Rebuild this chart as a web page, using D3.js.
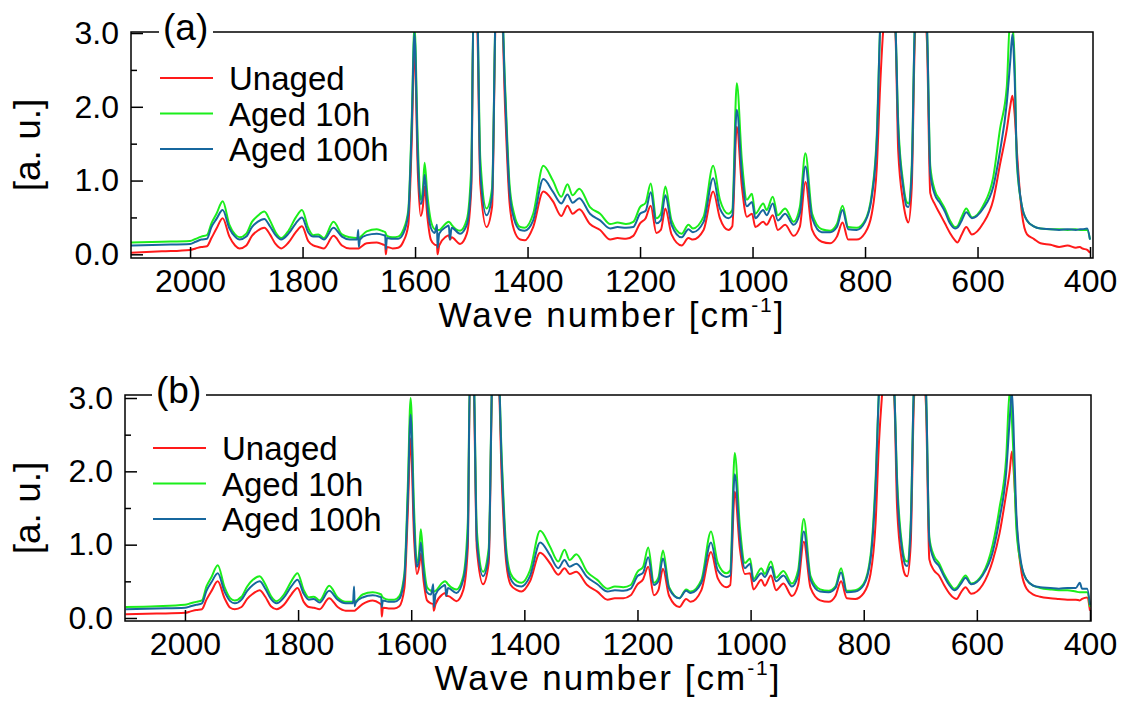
<!DOCTYPE html>
<html>
<head>
<meta charset="utf-8">
<script src="https://cdn.jsdelivr.net/npm/d3@7"></script>
<style>
  body { margin: 0; background: #fff; }
  svg { display: block; font-family: 'Liberation Sans', Arial, Helvetica, sans-serif; }
  .tick text { fill: #000; }
</style>
</head>
<body>
<div id="vis"></div>
<script>
const FRAME_WIDTH = 1125;
const FRAME_HEIGHT = 704;

// wave numbers [cm-1], shared by both panels
const WAVENUMBERS = [
  2105, 2050, 2000, 1990, 1980, 1970, 1962, 1953, 1942, 1930,
  1920, 1912, 1900, 1890, 1880, 1868, 1858, 1848, 1838, 1825,
  1812, 1801, 1790, 1781, 1772, 1762, 1745, 1730, 1716, 1703,
  1701, 1700, 1698, 1686, 1668, 1656, 1653, 1652, 1650, 1640,
  1630, 1621, 1612, 1606, 1601, 1595, 1590, 1586, 1583, 1578,
  1572, 1565, 1561, 1560, 1557, 1545, 1540, 1538, 1535, 1520,
  1508, 1500, 1496, 1490, 1484, 1473, 1463, 1456, 1446, 1440,
  1432, 1424, 1413, 1405, 1390, 1372, 1355, 1340, 1329, 1320,
  1308, 1289, 1271, 1253, 1240, 1225, 1212, 1200, 1190, 1181,
  1171, 1163, 1155, 1144, 1126, 1114, 1106, 1087, 1070, 1058,
  1043, 1036, 1028, 1019, 1010, 1001, 995, 981, 975, 964,
  955, 942, 927, 916, 906, 894, 877, 862, 850, 840,
  830, 815, 800, 788, 779, 773, 768, 756, 746, 741,
  732, 726, 723, 717, 711, 700, 690, 684, 676, 667,
  658, 649, 640, 636, 628, 620, 610, 590, 572, 560,
  548, 542, 538, 534, 530, 521, 512, 500, 488, 470,
  455, 440, 425, 418, 414, 405, 400
];

// panel (a)
const A_UNAGED = [
  .02, .04, .06, .08, .1, .11, .22, .35, .49, .24,
  .12, .08, .12, .25, .32, .36, .27, .14, .08, .16,
  .3, .38, .18, .12, .1, .08, .25, .12, .08, .08,
  .08, .08, .09, .15, .16, .13, .12, 0, .1, .08,
  .09, .17, .4, 1.5, 2.8, 1.1, .52, .65, .92, .5,
  .2, .13, .12, 0, .12, .24, .26, .2, .23, .14,
  .28, .9, 3.3, 3.2, .95, .37, .65, 3.3, 3.3, 2.0,
  .7, .33, .2, .19, .37, .85, .72, .52, .66, .55,
  .61, .41, .33, .2, .22, .21, .25, .42, .49, .66,
  .29, .33, .62, .27, .12, .22, .2, .33, .85, .49,
  .33, .38, 1.73, .92, .51, .55, .37, .44, .4, .53,
  .33, .4, .25, .37, .98, .33, .17, .15, .24, .43,
  .2, .2, .29, .55, 1.19, 2.3, 3.0, 3.6, 3.0, 1.4,
  .7, .47, .43, .9, 3.0, 3.7, 2.9, .83, .68, .55,
  .42, .29, .19, .16, .27, .37, .27, .42, .74, 1.22,
  1.69, 2.0, 2.15, 1.9, 1.4, .55, .27, .21, .15, .13,
  .1, .12, .09, .1, .08, .06, .02
];
const A_AGED10 = [
  .16, .17, .18, .21, .24, .26, .42, .55, .72, .4,
  .27, .23, .28, .44, .52, .58, .46, .3, .22, .32,
  .5, .6, .36, .26, .27, .22, .44, .27, .23, .22,
  .22, .22, .23, .31, .34, .31, .3, .28, .25, .23,
  .24, .33, .6, 1.8, 3.1, 1.5, .74, .9, 1.24, .8,
  .46, .34, .33, .33, .33, .42, .44, .43, .4, .32,
  .47, 1.2, 3.4, 3.4, 1.3, .62, .9, 3.4, 3.4, 2.3,
  .95, .55, .37, .36, .55, 1.2, 1.0, .78, .95, .8,
  .89, .64, .55, .41, .43, .41, .44, .64, .7, .96,
  .49, .55, .92, .46, .28, .4, .35, .51, 1.2, .74,
  .55, .6, 2.32, 1.28, .74, .82, .55, .69, .6, .78,
  .53, .62, .44, .64, 1.37, .55, .34, .32, .41, .66,
  .37, .36, .46, .82, 1.64, 3.1, 3.6, 3.8, 3.1, 1.8,
  .96, .71, .69, 1.2, 3.2, 3.8, 3.1, 1.2, .87, .74,
  .62, .46, .37, .38, .51, .62, .5, .66, 1.05, 1.7,
  2.27, 3.2, 3.1, 2.6, 1.23, .65, .46, .38, .35, .34,
  .34, .33, .34, .33, .33, .33, .2
];
const A_AGED100 = [
  .12, .13, .14, .17, .2, .21, .37, .48, .6, .35,
  .24, .2, .24, .37, .44, .48, .38, .26, .2, .28,
  .42, .5, .3, .24, .24, .2, .36, .24, .2, .2,
  .33, .1, .2, .26, .28, .26, .25, .07, .22, .21,
  .21, .28, .55, 1.7, 3.0, 1.3, .68, .8, 1.08, .65,
  .36, .29, .4, .09, .28, .37, .39, .2, .36, .28,
  .4, 1.0, 3.4, 3.4, 1.1, .53, .8, 3.4, 3.4, 2.2,
  .85, .48, .33, .32, .46, 1.02, .85, .69, .81, .7,
  .76, .55, .46, .35, .37, .36, .37, .55, .59, .84,
  .42, .46, .8, .4, .23, .34, .3, .44, 1.03, .62,
  .49, .53, 1.96, 1.1, .65, .71, .49, .6, .53, .69,
  .46, .55, .4, .55, 1.19, .49, .3, .3, .37, .6,
  .34, .33, .44, .78, 1.55, 3.1, 3.6, 3.8, 3.1, 1.7,
  .9, .65, .64, 1.1, 3.2, 3.8, 3.1, 1.1, .81, .7,
  .58, .42, .35, .36, .46, .57, .49, .62, .92, 1.4,
  2.05, 2.6, 2.98, 2.4, 1.3, .65, .46, .38, .35, .34,
  .33, .34, .33, .34, .34, .35, .2
];

// panel (b)
const B_UNAGED = [
  .05, .06, .07, .09, .11, .12, .25, .37, .5, .27,
  .14, .12, .15, .26, .33, .38, .29, .16, .12, .18,
  .32, .41, .22, .15, .14, .12, .27, .15, .1, .1,
  .1, .1, .11, .19, .24, .2, .18, .02, .14, .13,
  .13, .16, .41, 1.45, 2.45, 1.1, .6, .7, .88, .5,
  .24, .2, .19, .1, .19, .32, .34, .3, .3, .23,
  .38, .95, 3.3, 3.2, .95, .46, .75, 3.3, 3.3, 1.9,
  .75, .45, .38, .36, .5, .89, .75, .59, .68, .6,
  .63, .45, .36, .25, .27, .27, .31, .46, .53, .7,
  .31, .38, .67, .3, .15, .26, .22, .38, .9, .54,
  .42, .45, 1.72, .95, .6, .61, .39, .52, .44, .58,
  .38, .47, .3, .45, 1.04, .41, .24, .22, .3, .5,
  .27, .26, .34, .6, 1.3, 2.4, 3.0, 3.6, 3.0, 1.5,
  .75, .58, .57, 1.0, 3.0, 3.7, 2.9, .8, .65, .58,
  .45, .34, .27, .26, .35, .42, .33, .45, .78, 1.15,
  1.7, 2.0, 2.27, 1.9, 1.3, .62, .4, .32, .29, .27,
  .26, .25, .25, .24, .26, .28, .1
];
const B_AGED10 = [
  .15, .16, .18, .2, .22, .24, .43, .56, .72, .42,
  .27, .24, .29, .43, .52, .57, .46, .3, .23, .32,
  .5, .61, .38, .28, .29, .24, .44, .28, .22, .22,
  .22, .22, .23, .32, .35, .33, .32, .3, .28, .25,
  .25, .3, .61, 1.8, 3.0, 1.5, .75, .9, 1.21, .75,
  .42, .37, .36, .36, .37, .48, .5, .49, .46, .39,
  .57, 1.3, 3.4, 3.4, 1.2, .63, .95, 3.4, 3.4, 2.2,
  .95, .6, .5, .48, .65, 1.19, .98, .77, .93, .79,
  .87, .63, .52, .4, .43, .42, .45, .63, .7, .96,
  .48, .55, .92, .42, .27, .39, .36, .52, 1.18, .75,
  .61, .65, 2.25, 1.25, .75, .81, .53, .68, .6, .77,
  .55, .64, .47, .65, 1.35, .57, .39, .37, .43, .68,
  .37, .38, .47, .85, 1.9, 3.1, 3.6, 3.8, 3.1, 1.9,
  .98, .78, .77, 1.3, 3.2, 3.8, 3.1, 1.1, .85, .75,
  .6, .48, .4, .41, .5, .58, .47, .6, 1.0, 1.5,
  2.2, 3.1, 2.7, 2.0, 1.2, .7, .52, .44, .41, .39,
  .38, .38, .36, .35, .35, .35, .15
];
const B_AGED100 = [
  .12, .13, .14, .16, .18, .2, .37, .49, .61, .36,
  .23, .2, .25, .37, .45, .5, .4, .26, .2, .28,
  .43, .52, .33, .25, .26, .21, .37, .25, .2, .2,
  .43, .16, .21, .28, .31, .29, .28, .15, .24, .22,
  .22, .26, .56, 1.65, 2.77, 1.3, .7, .8, 1.03, .62,
  .35, .32, .46, .15, .32, .43, .45, .3, .41, .34,
  .52, 1.1, 3.4, 3.4, 1.05, .57, .85, 3.4, 3.4, 2.1,
  .85, .53, .44, .43, .57, 1.03, .86, .68, .79, .7,
  .74, .56, .46, .36, .38, .37, .4, .57, .62, .83,
  .45, .5, .81, .4, .27, .37, .34, .48, 1.03, .65,
  .56, .58, 1.96, 1.1, .68, .74, .5, .61, .56, .7,
  .5, .58, .43, .58, 1.18, .52, .36, .35, .41, .62,
  .35, .36, .45, .8, 1.8, 3.1, 3.6, 3.8, 3.1, 1.8,
  .92, .72, .71, 1.2, 3.2, 3.8, 3.1, 1.05, .8, .71,
  .57, .45, .38, .39, .47, .55, .46, .58, .9, 1.35,
  2.0, 2.7, 3.1, 2.3, 1.4, .72, .52, .44, .42, .41,
  .4, .41, .41, .48, .4, .4, .18
];

const SERIES_NAMES = ['Unaged', 'Aged 10h', 'Aged 100h'];
const SERIES_COLORS = ['#ff1a1a', '#1bee1b', '#17679e'];
const X_TICKS = [2000, 1800, 1600, 1400, 1200, 1000, 800, 600, 400];
const Y_TICKS = [0, 1, 2, 3];
const Y_MINOR_TICKS = [0.5, 1.5, 2.5];

// layout of the two panels
const PANELS = [
  { id: 'a', label: '(a)', left: 131, right: 1093, top: 32, bottom: 258,
    xDomain: [2105, 394.7], yDomain: [-0.05, 3.014],
    series: [A_UNAGED, A_AGED10, A_AGED100],
    legendLineX: 160, legendTextX: 229, legendY: 78, labelX: 163 },
  { id: 'b', label: '(b)', left: 125, right: 1091, top: 395, bottom: 621,
    xDomain: [2106, 398.2], yDomain: [-0.041, 3.041],
    series: [B_UNAGED, B_AGED10, B_AGED100],
    legendLineX: 153, legendTextX: 222, legendY: 448, labelX: 156 }
];

const FRAME = d3.select('#vis')
  .append('svg')
  .attr('width', FRAME_WIDTH)
  .attr('height', FRAME_HEIGHT);

function buildPanel(p) {
  const X_SCALE = d3.scaleLinear().domain(p.xDomain).range([p.left, p.right]);
  const Y_SCALE = d3.scaleLinear().domain(p.yDomain).range([p.bottom, p.top]);

  FRAME.append('clipPath')
    .attr('id', 'clip-' + p.id)
    .append('rect')
    .attr('x', p.left)
    .attr('y', p.top)
    .attr('width', p.right - p.left)
    .attr('height', p.bottom - p.top);

  // spectra, unaged first so the aged ones sit on top
  const line = d3.line()
    .x((d) => X_SCALE(d[0]))
    .y((d) => Y_SCALE(d[1]))
    .curve(d3.curveMonotoneX);

  const lines = FRAME.append('g').attr('clip-path', 'url(#clip-' + p.id + ')');
  p.series.forEach((values, i) => {
    lines.append('path')
      .datum(WAVENUMBERS.map((w, j) => [w, values[j]]))
      .attr('d', line)
      .attr('fill', 'none')
      .attr('stroke', SERIES_COLORS[i])
      .attr('stroke-width', 2)
      .attr('stroke-linejoin', 'round');
  });

  // frame box
  FRAME.append('rect')
    .attr('x', p.left)
    .attr('y', p.top)
    .attr('width', p.right - p.left)
    .attr('height', p.bottom - p.top)
    .attr('fill', 'none')
    .attr('stroke', '#000')
    .attr('stroke-width', 1.5);

  // x axis, ticks pointing inwards
  const xAxis = FRAME.append('g')
    .attr('transform', 'translate(0,' + p.bottom + ')')
    .call(d3.axisBottom(X_SCALE).tickValues(X_TICKS).tickSize(-11).tickPadding(11).tickFormat(d3.format('d')));
  xAxis.select('.domain').remove();
  xAxis.selectAll('line').attr('stroke-width', 1.5);
  xAxis.selectAll('text').attr('font-size', '32px').attr('font-family', 'Liberation Sans, Arial, sans-serif');

  const yAxis = FRAME.append('g')
    .attr('transform', 'translate(' + p.left + ',0)')
    .call(d3.axisLeft(Y_SCALE).tickValues(Y_TICKS).tickSize(-12).tickPadding(12).tickFormat(d3.format('.1f')));
  yAxis.select('.domain').remove();
  yAxis.selectAll('line').attr('stroke-width', 1.5);
  yAxis.selectAll('text').attr('font-size', '32px').attr('font-family', 'Liberation Sans, Arial, sans-serif');

  const yMinor = FRAME.append('g')
    .attr('transform', 'translate(' + p.left + ',0)')
    .call(d3.axisLeft(Y_SCALE).tickValues(Y_MINOR_TICKS).tickSize(-6).tickFormat(''));
  yMinor.select('.domain').remove();
  yMinor.selectAll('line').attr('stroke-width', 1.5);

  // panel label breaks the top frame line
  FRAME.append('rect')
    .attr('x', p.labelX - 4)
    .attr('y', p.top - 8)
    .attr('width', 54)
    .attr('height', 16)
    .attr('fill', '#fff');
  FRAME.append('text')
    .attr('x', p.labelX)
    .attr('y', p.top + 8)
    .attr('font-size', '37px')
    .text(p.label);

  // legend
  SERIES_NAMES.forEach((name, i) => {
    const y = p.legendY + i * 35.5;
    FRAME.append('line')
      .attr('x1', p.legendLineX)
      .attr('x2', p.legendLineX + 53)
      .attr('y1', y)
      .attr('y2', y)
      .attr('stroke', SERIES_COLORS[i])
      .attr('stroke-width', 2);
    FRAME.append('text')
      .attr('x', p.legendTextX)
      .attr('y', y + 12)
      .attr('font-size', '33px')
      .text(name);
  });

  // axis titles
  const title = FRAME.append('text')
    .attr('x', (p.left + p.right) / 2)
    .attr('y', p.bottom + 69)
    .attr('text-anchor', 'middle')
    .attr('font-size', '35px')
    .attr('letter-spacing', '2px');
  title.append('tspan').text('Wave number [cm');
  title.append('tspan').attr('font-size', '21px').attr('dy', -15).text('-1');
  title.append('tspan').attr('dy', 15).text(']');

  FRAME.append('text')
    .attr('transform', 'translate(40,' + (p.top + p.bottom) / 2 + ') rotate(-90)')
    .attr('text-anchor', 'middle')
    .attr('font-size', '37px')
    .text('[a. u.]');
}

PANELS.forEach(buildPanel);
</script>
</body>
</html>
